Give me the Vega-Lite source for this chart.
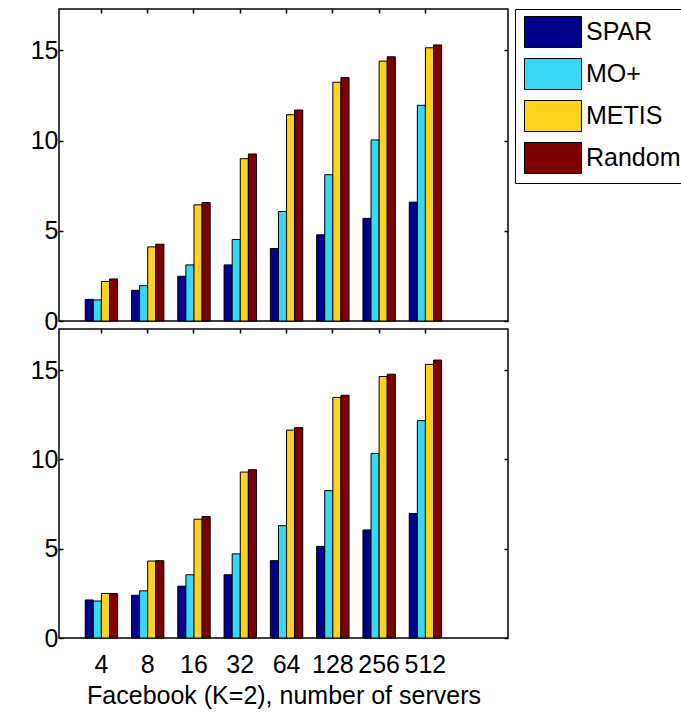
{
  "$schema": "https://vega.github.io/schema/vega-lite/v6.json",
  "padding": {"left": 29, "top": 7, "right": 0, "bottom": 0},
  "bounds": "flush",
  "spacing": 8,
  "config": {
    "font": "Liberation Sans",
    "view": {"stroke": "black", "strokeWidth": 1.5},
    "axis": {"domain": false, "ticks": true, "tickColor": "black", "labelColor": "black", "titleColor": "black", "grid": false, "tickWidth": 1.5, "tickSize": -4, "zindex": 2}
  },
  "data": {"values": [
    {"panel": "top", "servers": "4", "method": "SPAR", "value": 1.2},
    {"panel": "top", "servers": "4", "method": "MO+", "value": 1.17},
    {"panel": "top", "servers": "4", "method": "METIS", "value": 2.19},
    {"panel": "top", "servers": "4", "method": "Random", "value": 2.33},
    {"panel": "top", "servers": "8", "method": "SPAR", "value": 1.7},
    {"panel": "top", "servers": "8", "method": "MO+", "value": 1.96},
    {"panel": "top", "servers": "8", "method": "METIS", "value": 4.11},
    {"panel": "top", "servers": "8", "method": "Random", "value": 4.26},
    {"panel": "top", "servers": "16", "method": "SPAR", "value": 2.48},
    {"panel": "top", "servers": "16", "method": "MO+", "value": 3.11},
    {"panel": "top", "servers": "16", "method": "METIS", "value": 6.44},
    {"panel": "top", "servers": "16", "method": "Random", "value": 6.57},
    {"panel": "top", "servers": "32", "method": "SPAR", "value": 3.11},
    {"panel": "top", "servers": "32", "method": "MO+", "value": 4.52},
    {"panel": "top", "servers": "32", "method": "METIS", "value": 9.0},
    {"panel": "top", "servers": "32", "method": "Random", "value": 9.26},
    {"panel": "top", "servers": "64", "method": "SPAR", "value": 4.02},
    {"panel": "top", "servers": "64", "method": "MO+", "value": 6.07},
    {"panel": "top", "servers": "64", "method": "METIS", "value": 11.44},
    {"panel": "top", "servers": "64", "method": "Random", "value": 11.7},
    {"panel": "top", "servers": "128", "method": "SPAR", "value": 4.78},
    {"panel": "top", "servers": "128", "method": "MO+", "value": 8.11},
    {"panel": "top", "servers": "128", "method": "METIS", "value": 13.24},
    {"panel": "top", "servers": "128", "method": "Random", "value": 13.5},
    {"panel": "top", "servers": "256", "method": "SPAR", "value": 5.69},
    {"panel": "top", "servers": "256", "method": "MO+", "value": 10.04},
    {"panel": "top", "servers": "256", "method": "METIS", "value": 14.41},
    {"panel": "top", "servers": "256", "method": "Random", "value": 14.65},
    {"panel": "top", "servers": "512", "method": "SPAR", "value": 6.59},
    {"panel": "top", "servers": "512", "method": "MO+", "value": 11.96},
    {"panel": "top", "servers": "512", "method": "METIS", "value": 15.15},
    {"panel": "top", "servers": "512", "method": "Random", "value": 15.31},
    {"panel": "bottom", "servers": "4", "method": "SPAR", "value": 2.13},
    {"panel": "bottom", "servers": "4", "method": "MO+", "value": 2.07},
    {"panel": "bottom", "servers": "4", "method": "METIS", "value": 2.49},
    {"panel": "bottom", "servers": "4", "method": "Random", "value": 2.49},
    {"panel": "bottom", "servers": "8", "method": "SPAR", "value": 2.39},
    {"panel": "bottom", "servers": "8", "method": "MO+", "value": 2.64},
    {"panel": "bottom", "servers": "8", "method": "METIS", "value": 4.31},
    {"panel": "bottom", "servers": "8", "method": "Random", "value": 4.33},
    {"panel": "bottom", "servers": "16", "method": "SPAR", "value": 2.9},
    {"panel": "bottom", "servers": "16", "method": "MO+", "value": 3.54},
    {"panel": "bottom", "servers": "16", "method": "METIS", "value": 6.65},
    {"panel": "bottom", "servers": "16", "method": "Random", "value": 6.8},
    {"panel": "bottom", "servers": "32", "method": "SPAR", "value": 3.54},
    {"panel": "bottom", "servers": "32", "method": "MO+", "value": 4.71},
    {"panel": "bottom", "servers": "32", "method": "METIS", "value": 9.29},
    {"panel": "bottom", "servers": "32", "method": "Random", "value": 9.42},
    {"panel": "bottom", "servers": "64", "method": "SPAR", "value": 4.33},
    {"panel": "bottom", "servers": "64", "method": "MO+", "value": 6.29},
    {"panel": "bottom", "servers": "64", "method": "METIS", "value": 11.64},
    {"panel": "bottom", "servers": "64", "method": "Random", "value": 11.78},
    {"panel": "bottom", "servers": "128", "method": "SPAR", "value": 5.13},
    {"panel": "bottom", "servers": "128", "method": "MO+", "value": 8.25},
    {"panel": "bottom", "servers": "128", "method": "METIS", "value": 13.47},
    {"panel": "bottom", "servers": "128", "method": "Random", "value": 13.59},
    {"panel": "bottom", "servers": "256", "method": "SPAR", "value": 6.05},
    {"panel": "bottom", "servers": "256", "method": "MO+", "value": 10.33},
    {"panel": "bottom", "servers": "256", "method": "METIS", "value": 14.64},
    {"panel": "bottom", "servers": "256", "method": "Random", "value": 14.77},
    {"panel": "bottom", "servers": "512", "method": "SPAR", "value": 6.97},
    {"panel": "bottom", "servers": "512", "method": "MO+", "value": 12.17},
    {"panel": "bottom", "servers": "512", "method": "METIS", "value": 15.32},
    {"panel": "bottom", "servers": "512", "method": "Random", "value": 15.56}
  ]},
  "vconcat": [
    {
      "width": 449, "height": 312,
      "transform": [{"filter": "datum.panel == 'top'"}],
      "layer": [
        {
          "mark": {"type": "bar", "stroke": "black", "strokeWidth": 1},
          "encoding": {
            "x": {"field": "servers", "type": "ordinal", "sort": ["4","8","16","32","64","128","256","512"],
                  "scale": {"paddingInner": 0.3, "paddingOuter": 1.14, "align": 0.283},
                  "axis": {"orient": "bottom", "labels": false, "title": null}},
            "xOffset": {"field": "method", "sort": ["SPAR","MO+","METIS","Random"], "scale": {"paddingInner": 0, "paddingOuter": 0}},
            "y": {"field": "value", "type": "quantitative", "stack": null,
                  "scale": {"domain": [0, 17.3], "nice": false},
                  "axis": {"values": [0,5,10,15], "labelFontSize": 25, "labelPadding": 5, "title": null}},
            "color": {"field": "method", "type": "nominal", "sort": ["SPAR","MO+","METIS","Random"],
                      "scale": {"domain": ["SPAR","MO+","METIS","Random"], "range": ["#00008C","#36D8F2","#FFD21E","#7C0000"]},
                      "legend": {"orient": "right", "offset": 5, "title": null, "strokeColor": "black", "fillColor": "white", "padding": 7,
                                 "symbolType": "M-1.84,-1H1.84V1H-1.84Z", "symbolSize": 961, "symbolOffset": 15, "symbolStrokeColor": "black", "symbolStrokeWidth": 1, "symbolOpacity": 1,
                                 "labelFontSize": 25, "labelOffset": 17, "labelColor": "black", "rowPadding": 6}}
          }
        },
        {
          "mark": {"type": "point", "opacity": 0},
          "encoding": {
            "x": {"field": "servers", "type": "ordinal", "sort": ["4","8","16","32","64","128","256","512"],
                  "axis": {"orient": "top", "labels": false, "title": null}},
            "y": {"field": "value", "type": "quantitative", "scale": {"domain": [0, 17.3], "nice": false},
                  "axis": {"orient": "right", "labels": false, "values": [0,5,10,15], "title": null}}
          }
        }
      ],
      "resolve": {"axis": {"x": "independent", "y": "independent"}}
    },
    {
      "width": 449, "height": 309,
      "transform": [{"filter": "datum.panel == 'bottom'"}],
      "layer": [
        {
          "mark": {"type": "bar", "stroke": "black", "strokeWidth": 1},
          "encoding": {
            "x": {"field": "servers", "type": "ordinal", "sort": ["4","8","16","32","64","128","256","512"],
                  "scale": {"paddingInner": 0.3, "paddingOuter": 1.14, "align": 0.283},
                  "axis": {"orient": "bottom", "labelAngle": 0, "labelFontSize": 25, "labelPadding": 18, "labelOverlap": false,
                           "title": "Facebook (K=2), number of servers", "titleFontSize": 25, "titleFontWeight": "normal", "titlePadding": 6}},
            "xOffset": {"field": "method", "sort": ["SPAR","MO+","METIS","Random"], "scale": {"paddingInner": 0, "paddingOuter": 0}},
            "y": {"field": "value", "type": "quantitative", "stack": null,
                  "scale": {"domain": [0, 17.3], "nice": false},
                  "axis": {"values": [0,5,10,15], "labelFontSize": 25, "labelPadding": 5, "title": null}},
            "color": {"field": "method", "type": "nominal", "sort": ["SPAR","MO+","METIS","Random"],
                      "scale": {"domain": ["SPAR","MO+","METIS","Random"], "range": ["#00008C","#36D8F2","#FFD21E","#7C0000"]},
                      "legend": null}
          }
        },
        {
          "mark": {"type": "point", "opacity": 0},
          "encoding": {
            "x": {"field": "servers", "type": "ordinal", "sort": ["4","8","16","32","64","128","256","512"],
                  "axis": {"orient": "top", "labels": false, "title": null}},
            "y": {"field": "value", "type": "quantitative", "scale": {"domain": [0, 17.3], "nice": false},
                  "axis": {"orient": "right", "labels": false, "values": [0,5,10,15], "title": null}}
          }
        }
      ],
      "resolve": {"axis": {"x": "independent", "y": "independent"}}
    }
  ]
}
